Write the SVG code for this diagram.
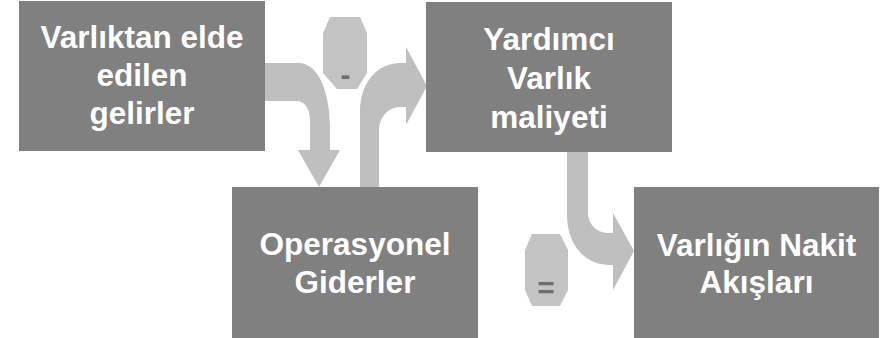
<svg xmlns="http://www.w3.org/2000/svg" width="883" height="338" viewBox="0 0 883 338">
<style>
.box{fill:#808080}
.arrow{fill:#bfbfbf}
.oct{fill:#c3c3c3}
.lbl{font-family:"Liberation Sans",Arial,sans-serif;font-weight:bold;font-size:31.5px;fill:#ffffff;text-anchor:middle}
.op{font-family:"Liberation Sans",Arial,sans-serif;font-weight:bold;font-size:30px;fill:#6e6e6e;text-anchor:middle}
</style>
<rect width="883" height="338" fill="#ffffff"/>
<g id="connectors">
<path class="arrow" d="M262,63 L298,63 C318,63 330,90 330,130 L330,150 L340,150 L319,187 L298,150 L310,150 L310,120 C310,108 304,101 296,101 L262,101 Z"/>
<path class="arrow" d="M360,190 L360,112 C360,82 378,63 400,63 L406,63 L406,47 L427,86 L406,125 L406,107 L400,107 C388,107 379,118 379,130 L379,190 Z"/>
<path class="arrow" d="M567,150 L567,215 C567,245 585,265 610,265 L613,265 L613,290 L634,251 L613,213 L613,233 L608,233 C597,233 588,224 588,213 L588,150 Z"/>
</g>
<g id="op-minus">
<polygon class="oct" points="330,17 360,17 367,33 367,73 357,89 337,89 323,73 323,33"/>
<text class="op" x="345.5" y="85">-</text>
</g>
<g id="op-equals">
<polygon class="oct" points="532,234 560,234 568,250 568,290 560,306 532,306 525,290 525,250"/>
<text class="op" x="546" y="298">=</text>
</g>
<g id="node-gelirler">
<rect class="box" x="19" y="1" width="246" height="150"/>
<text class="lbl" x="142" y="48">Varlıktan elde</text>
<text class="lbl" x="142" y="86">edilen</text>
<text class="lbl" x="142" y="124">gelirler</text>
</g>
<g id="node-yardimci">
<rect class="box" x="426" y="2" width="246" height="150"/>
<text class="lbl" x="549" y="50">Yardımcı</text>
<text class="lbl" x="549" y="89">Varlık</text>
<text class="lbl" x="549" y="128">maliyeti</text>
</g>
<g id="node-operasyonel">
<rect class="box" x="232" y="187" width="246" height="151"/>
<text class="lbl" x="355" y="255">Operasyonel</text>
<text class="lbl" x="355" y="293">Giderler</text>
</g>
<g id="node-nakit">
<rect class="box" x="634" y="187" width="245" height="151"/>
<text class="lbl" x="756.5" y="256">Varlığın Nakit</text>
<text class="lbl" x="756.5" y="293">Akışları</text>
</g>
</svg>
